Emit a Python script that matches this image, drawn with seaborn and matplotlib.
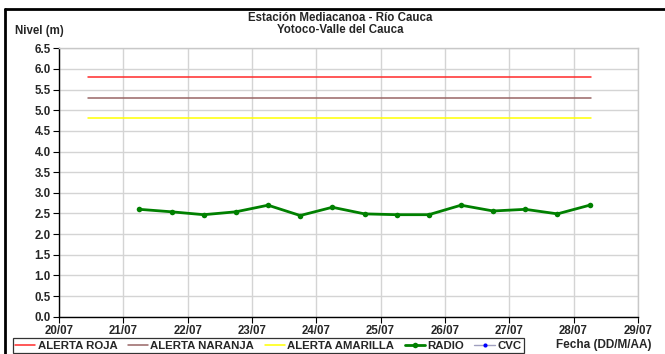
import matplotlib
matplotlib.use("Agg")
import matplotlib.pyplot as plt
import matplotlib.dates as mdates
from matplotlib.lines import Line2D
import seaborn as sns
import pandas as pd

# River level readings (m), twice daily
radio_times = [
    "2014-07-21 06:00", "2014-07-21 18:00", "2014-07-22 06:00", "2014-07-22 18:00",
    "2014-07-23 06:00", "2014-07-23 18:00", "2014-07-24 06:00", "2014-07-24 18:00",
    "2014-07-25 06:00", "2014-07-25 18:00", "2014-07-26 06:00", "2014-07-26 18:00",
    "2014-07-27 06:00", "2014-07-27 18:00", "2014-07-28 06:00",
]
radio_levels = [2.60, 2.54, 2.47, 2.54, 2.70, 2.45, 2.65, 2.49,
                2.47, 2.47, 2.70, 2.56, 2.60, 2.49, 2.70]

# Alert thresholds (m) and the period they cover
alert_names = ["ALERTA ROJA", "ALERTA NARANJA", "ALERTA AMARILLA"]
alert_levels = [5.8, 5.3, 4.8]
alert_span = ["2014-07-20 11:00", "2014-07-28 06:30"]

x_start, x_end = "2014-07-20", "2014-07-29"
y_ticks = [0.0, 0.5, 1.0, 1.5, 2.0, 2.5, 3.0, 3.5, 4.0, 4.5, 5.0, 5.5, 6.0, 6.5]

sns.set_theme(style="white")
plt.rcParams["font.family"] = ["Liberation Sans", "DejaVu Sans"]
plt.rcParams["font.weight"] = "bold"

fig = plt.figure(figsize=(6.65, 3.54), dpi=100)
ax = fig.add_axes([0.0887, 0.1054, 0.8705, 0.7582])

alert_colors = ["#ff2a2a", "#996666", "#ffff00"]
for name, lvl, col in zip(alert_names, alert_levels, alert_colors):
    df_a = pd.DataFrame({"t": pd.to_datetime(alert_span), "v": [lvl, lvl]})
    sns.lineplot(data=df_a, x="t", y="v", ax=ax, color=col, linewidth=1.1,
                 label=name, zorder=3)

df_r = pd.DataFrame({"t": pd.to_datetime(radio_times), "v": radio_levels})
sns.lineplot(data=df_r, x="t", y="v", ax=ax, color="#008000", linewidth=2.0,
             marker="o", markersize=4, markeredgewidth=0, label="RADIO", zorder=4)

ax.set_xlim(pd.Timestamp(x_start), pd.Timestamp(x_end))
ax.set_ylim(0, 6.5)
ax.set_yticks(y_ticks)
ax.set_yticklabels([f"{v:.1f}" for v in y_ticks])
ax.xaxis.set_major_locator(mdates.DayLocator())
ax.xaxis.set_major_formatter(mdates.DateFormatter("%d/%m"))
ax.set_xlabel("")
ax.set_ylabel("")

ax.grid(True, color="#d4d4d4", linewidth=1.0)
ax.set_axisbelow(True)
for side in ["top", "right"]:
    ax.spines[side].set_color("#c8c8c8")
    ax.spines[side].set_linewidth(1.0)
for side in ["left", "bottom"]:
    ax.spines[side].set_color("black")
    ax.spines[side].set_linewidth(1.0)
ax.tick_params(axis="both", which="major", direction="out", length=4, width=0.8,
               color="black", labelsize=8.3, pad=2, left=True, bottom=True)
for lab in ax.get_xticklabels() + ax.get_yticklabels():
    lab.set_fontweight("bold")

# Legend row beneath the plot, including the CVC series entry
handles, labels = ax.get_legend_handles_labels()
ax.get_legend().remove()
handles.append(Line2D([], [], color="#a0a0c0", linewidth=1.0, marker="o",
                      markersize=3, markerfacecolor="#0000ff", markeredgewidth=0))
labels.append("CVC")
leg = fig.legend(handles, labels, loc="lower left", bbox_to_anchor=(0.019, 0.003),
                 ncol=5, fontsize=8.2, frameon=True, fancybox=False,
                 handlelength=1.8, handletextpad=0.2, columnspacing=0.9,
                 borderpad=0.2, borderaxespad=0.0)
leg.get_frame().set_edgecolor("black")
leg.get_frame().set_linewidth(0.9)
for t in leg.get_texts():
    t.set_fontweight("bold")

fig.text(604 / 665, 1 - 345 / 354, "Fecha (DD/M/AA)", ha="center", va="center",
         fontsize=8.5, fontweight="bold")
fig.text(15 / 665, 1 - 31 / 354, "Nivel (m)", ha="left", va="center",
         fontsize=8.3, fontweight="bold")
fig.text(340 / 665, 1 - 18 / 354, "Estación Mediacanoa - Río Cauca", ha="center",
         va="center", fontsize=8.3, fontweight="bold")
fig.text(340 / 665, 1 - 30 / 354, "Yotoco-Valle del Cauca", ha="center",
         va="center", fontsize=8.3, fontweight="bold")

# Outer frame lines along the top and left edges
fig.add_artist(Line2D([5.5 / 665, 1.0], [1 - 9 / 354, 1 - 9 / 354],
                      color="black", linewidth=2.0, transform=fig.transFigure))
fig.add_artist(Line2D([5.5 / 665, 5.5 / 665], [0.0, 1 - 9 / 354],
                      color="black", linewidth=2.0, transform=fig.transFigure))

fig.savefig("out.png", dpi=100)
